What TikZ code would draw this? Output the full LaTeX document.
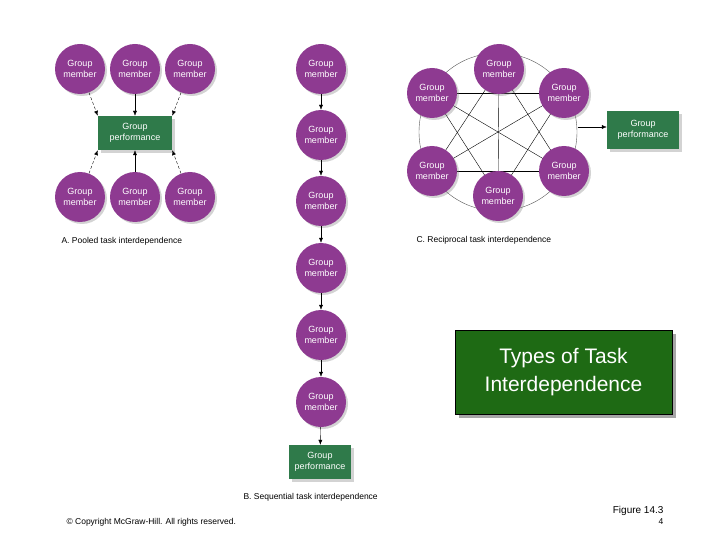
\documentclass[tikz,border=0pt]{standalone}
\usepackage{fontspec}
\setmainfont{Liberation Sans}
\usetikzlibrary{shadows,arrows.meta,backgrounds}
\definecolor{mem}{HTML}{8E3A91}
\definecolor{perf}{HTML}{2F7A4A}
\definecolor{tgreen}{HTML}{1E6A14}
\begin{document}
\begin{tikzpicture}[x=1pt,y=-1pt,
  m/.style={circle,fill=mem,minimum size=50pt,inner sep=0pt,text=white,font=\fontsize{9}{11}\selectfont,align=center,drop shadow={opacity=0.35,shadow xshift=2pt,shadow yshift=-2pt}},
  p/.style={rectangle,fill=perf,minimum width=72pt,minimum height=36pt,text=white,font=\fontsize{9}{11}\selectfont,align=center,drop shadow={opacity=0.35,shadow xshift=3pt,shadow yshift=-3pt}},
  ar/.style={-{Latex[length=5pt,width=4pt]},thin},
  da/.style={ar,densely dashed},
  lbl/.style={font=\fontsize{8.5}{10}\selectfont,anchor=west},
  ln/.style={thin}]
\useasboundingbox (0,0) rectangle (720,540);
% A pooled
\node[m] (a1) at (80,69) {Group\\member};
\node[m] (a2) at (135,69) {Group\\member};
\node[m] (a3) at (190,69) {Group\\member};
\node[p,minimum width=74pt,minimum height=34pt] (ap) at (135,133) {Group\\performance};
\node[m] (a4) at (80,197) {Group\\member};
\node[m] (a5) at (135,197) {Group\\member};
\node[m] (a6) at (190,197) {Group\\member};
\draw[da] (a1) -- (ap.north west);
\draw[ar] (a2) -- (ap);
\draw[da] (a3) -- (ap.north east);
\draw[da] (a4) -- (ap.south west);
\draw[ar] (a5) -- (ap);
\draw[da] (a6) -- (ap.south east);
\node[lbl] (ca) at (58,241) {A. Pooled task interdependence};
% B sequential
\node[m] (b1) at (321,69) {Group\\member};
\node[m] (b2) at (321,135) {Group\\member};
\node[m] (b3) at (321,201) {Group\\member};
\node[m] (b4) at (321,268) {Group\\member};
\node[m] (b5) at (321,335) {Group\\member};
\node[m] (b6) at (321,402) {Group\\member};
\node[p,minimum width=62pt,minimum height=34pt] (bp) at (320,462) {Group\\performance};
\foreach \i/\j in {b1/b2,b2/b3,b3/b4,b4/b5,b5/b6,b6/bp} \draw[ar] (\i) -- (\j);
\node[lbl] (cb) at (240,497) {B. Sequential task interdependence};
% C reciprocal
\coordinate (cc) at (498,132);
\node[m] (c1) at (499,69) {Group\\member};
\node[m] (c2) at (432,93) {Group\\member};
\node[m] (c3) at (564,93) {Group\\member};
\node[m] (c4) at (432,171) {Group\\member};
\node[m] (c5) at (564,171) {Group\\member};
\node[m] (c6) at (498,196) {Group\\member};
\begin{scope}[on background layer]
\draw[ln,gray!70!black] (cc) circle[radius=79];
\foreach \i/\j in {c1/c6,c2/c3,c4/c5,c2/c5,c3/c4,c1/c4,c1/c5,c6/c2,c6/c3}
  \draw[ln] (\i.center) -- (\j.center);
\end{scope}
\node[p,minimum width=72pt,minimum height=38pt] (cp) at (643,130) {Group\\performance};
\coordinate (cs) at (578,127);
\draw[ar] (cs) -- (cp.west|-cs);
\node[lbl] (ccap) at (413,240) {C. Reciprocal task interdependence};
% title
\node[rectangle,fill=tgreen,draw=black,line width=1pt,minimum width=217pt,minimum height=84pt,text=white,align=center,font=\fontsize{21}{28}\selectfont,drop shadow={fill=gray!70,opacity=1,shadow xshift=4pt,shadow yshift=-4pt}] (t) at (563.5,372) {Types of Task\\Interdependence};
\node[font=\fontsize{8.5}{10}\selectfont,anchor=west] (cr) at (63,522) {© Copyright McGraw-Hill. All rights reserved.};
\node[font=\fontsize{10}{11}\selectfont,anchor=east] (fg) at (667,511) {Figure 14.3};
\node[font=\fontsize{8.5}{10}\selectfont,anchor=east] (pg) at (667,522) {4};
\end{tikzpicture}
\end{document}
